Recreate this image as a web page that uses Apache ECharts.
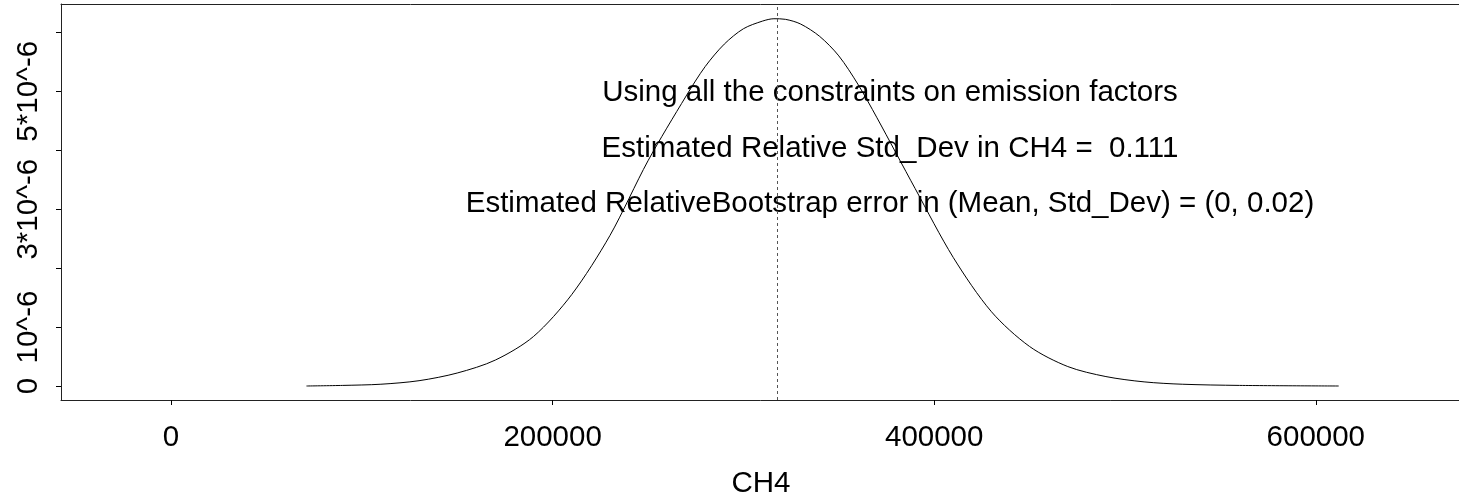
<!DOCTYPE html>
<html>
<head>
<meta charset="utf-8">
<script src="https://cdn.jsdelivr.net/npm/echarts@6/dist/echarts.min.js"></script>
<style>
html,body{margin:0;padding:0;background:#fff;}
#chart{width:1459px;height:503px;}
</style>
</head>
<body>
<div id="chart"></div>
<script>
// CH4 values (x) and density (in units of 1e-6)
var ch4 = [71000, 90000, 110000, 130000, 150000, 170000, 190000, 210000, 230000, 250000,
           270000, 280000, 290000, 300000, 310000, 316000, 322000, 330000, 340000, 350000,
           360000, 370000, 390000, 410000, 430000, 450000, 470000, 490000, 510000, 530000,
           560000, 612000];
var density = [0.00, 0.01, 0.03, 0.09, 0.22, 0.44, 0.84, 1.55, 2.55, 3.82,
               4.92, 5.42, 5.80, 6.06, 6.19, 6.23, 6.22, 6.14, 5.93, 5.60,
               5.12, 4.55, 3.35, 2.18, 1.26, 0.67, 0.33, 0.16, 0.07, 0.03,
               0.01, 0.00];
var meanCH4 = 317600;
var xTicks = [0, 200000, 400000, 600000];
var yTicks = [0, 1, 2, 3, 4, 5, 6];
var yLabelValues = [0, 1, 3, 5];
var yLabelTexts = ["0", "10^-6", "3*10^-6", "5*10^-6"];
var xName = "CH4";
var notes = [
  "Using all the constraints on emission factors",
  "Estimated Relative Std_Dev in CH4 =  0.111",
  "Estimated RelativeBootstrap error in (Mean, Std_Dev) = (0, 0.02)"
];

var FONT = '"Liberation Sans", Arial, Helvetica, sans-serif';
var FS = 29.5;
var BOX = '#222';

var chart = echarts.init(document.getElementById('chart'), null, {renderer: 'canvas'});
var pts = ch4.map(function (x, i) { return [x, density[i]]; });

chart.setOption({
  animation: false,
  backgroundColor: '#ffffff',
  grid: {left: 61, top: 4, width: 1400, height: 396, show: false,
         containLabel: false, outerBoundsMode: 'none'},
  xAxis: [{
    type: 'value', min: -57650, max: 676100, position: 'bottom',
    name: xName, nameLocation: 'middle', nameGap: 69,
    nameTextStyle: {fontFamily: FONT, fontSize: FS, color: '#000'},
    axisLine: {show: true, onZero: false, lineStyle: {color: BOX, width: 1}},
    splitLine: {show: false},
    axisTick: {show: true, length: 5, inside: false, customValues: xTicks, lineStyle: {color: '#000', width: 1}},
    axisLabel: {show: true, customValues: xTicks, margin: 23, fontFamily: FONT, fontSize: FS, color: '#000',
      formatter: function (v) { return String(v); }}
  }, {
    type: 'value', min: -57650, max: 676100, position: 'top',
    axisLine: {show: true, onZero: false, lineStyle: {color: BOX, width: 1}},
    splitLine: {show: false}, axisTick: {show: false}, axisLabel: {show: false}
  }],
  yAxis: {
    type: 'value', min: -0.2375, max: 6.48,
    axisLine: {show: true, onZero: false, lineStyle: {color: BOX, width: 1}},
    splitLine: {show: false},
    axisTick: {show: true, length: 5, inside: false, customValues: yTicks, lineStyle: {color: '#000', width: 1}},
    axisLabel: {show: true, customValues: yLabelValues, rotate: 90, margin: 17, fontFamily: FONT, fontSize: FS, color: '#000',
      formatter: function (v) {
        var i = yLabelValues.indexOf(Math.round(v));
        return i >= 0 ? yLabelTexts[i] : '';
      }}
  },
  series: [{
    type: 'line',
    data: pts,
    smooth: 0.3,
    showSymbol: false,
    symbol: 'none',
    lineStyle: {color: '#000', width: 1},
    markLine: {
      silent: true,
      symbol: ['none', 'none'],
      label: {show: false},
      lineStyle: {color: '#555', width: 1, type: [3, 3]},
      data: [{xAxis: meanCH4}]
    }
  }],
  graphic: notes.map(function (t, i) {
    return {
      type: 'text',
      x: 890, y: 93 + i * 55.5,
      style: {text: t, fill: '#000', font: FS + 'px ' + FONT, align: 'center', verticalAlign: 'middle'}
    };
  })
});
</script>
</body>
</html>
